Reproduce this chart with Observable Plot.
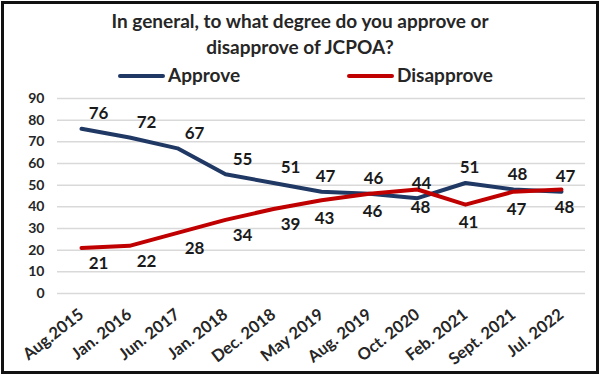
<!DOCTYPE html>
<html>
<head>
<meta charset="utf-8">
<script src="https://cdn.jsdelivr.net/npm/d3@7"></script>
<script src="https://cdn.jsdelivr.net/npm/@observablehq/plot@0.6"></script>
<style>
  html, body { margin: 0; padding: 0; background: #fff; }
  body { width: 600px; height: 375px; position: relative; overflow: hidden; font-family: Lato, "Open Sans", sans-serif; }
  #frame { position: absolute; left: 1px; top: 1px; width: 592px; height: 367px; border: 3px solid #111; }
  #title { position: absolute; left: 0; top: 8px; width: 600px; text-align: center; font-weight: bold; font-size: 19px; line-height: 26px; color: #262626; }
  .leg { position: absolute; top: 64px; font-weight: bold; font-size: 19px; color: #262626; line-height: 22px; }
  .sw { position: absolute; top: 10px; height: 4px; width: 47px; border-radius: 2px; }
  #chart { position: absolute; left: 0; top: 85px; }
</style>
</head>
<body>
<div id="frame"></div>
<div id="title">In general, to what degree do you approve or<br>disapprove of JCPOA?</div>
<div class="leg" style="left:118px;"><span class="sw" style="left:0;background:#203864;"></span><span style="margin-left:50px;">Approve</span></div>
<div class="leg" style="left:347px;"><span class="sw" style="left:0;background:#c00000;"></span><span style="margin-left:50px;">Disapprove</span></div>
<div id="chart"></div>
<script>
const dates = ["Aug.2015","Jan. 2016","Jun. 2017","Jan. 2018","Dec. 2018","May 2019","Aug. 2019","Oct. 2020","Feb. 2021","Sept. 2021","Jul. 2022"];
const approve = [76,72,67,55,51,47,46,44,51,48,47];
const disapprove = [21,22,28,34,39,43,46,48,41,47,48];
const yTicks = [0,10,20,30,40,50,60,70,80,90];

const A = dates.map((d,i) => ({date: d, value: approve[i], i}));
const D = dates.map((d,i) => ({date: d, value: disapprove[i], i}));
const blue = "#203864", red = "#c00000";
const labelFont = {fontSize: 17, fontWeight: "bold", fill: "#1a1a1a"};

const chart = Plot.plot({
  width: 600,
  height: 290,
  marginLeft: 57,
  marginRight: 15,
  marginTop: 13,
  marginBottom: 82,
  style: {fontFamily: "Lato, 'Open Sans', sans-serif", background: "transparent", color: "#262626"},
  x: {type: "point", domain: dates, padding: 0.5, label: null},
  y: {domain: [0, 90], ticks: yTicks, label: null},
  marks: [
    Plot.gridY(yTicks, {stroke: "#d9d9d9", strokeOpacity: 1, strokeWidth: 1.5}),
    Plot.axisY(yTicks, {tickSize: 0, tickPadding: 13, fontSize: 14, fontWeight: "bold", label: null}),
    Plot.axisX({tickSize: 0, tickRotate: -38, tickPadding: 19, fontSize: 16.5, fontWeight: "bold", label: null}),
    Plot.line(A, {x: "date", y: "value", stroke: blue, strokeWidth: 4}),
    Plot.line(D, {x: "date", y: "value", stroke: red, strokeWidth: 4}),
    Plot.text(A.filter(d => d.i < 5), {x: "date", y: "value", text: "value", dy: -15, dx: 17, ...labelFont}),
    Plot.text(A.filter(d => d.i >= 5), {x: "date", y: "value", text: "value", dy: -15, dx: 4, ...labelFont}),
    Plot.text(D.filter(d => d.i < 5), {x: "date", y: "value", text: "value", dy: 16, dx: 17, ...labelFont}),
    Plot.text(D.filter(d => d.i >= 5), {x: "date", y: "value", text: "value", dy: 18, dx: 3, ...labelFont})
  ]
});
document.getElementById("chart").appendChild(chart);
</script>
</body>
</html>
